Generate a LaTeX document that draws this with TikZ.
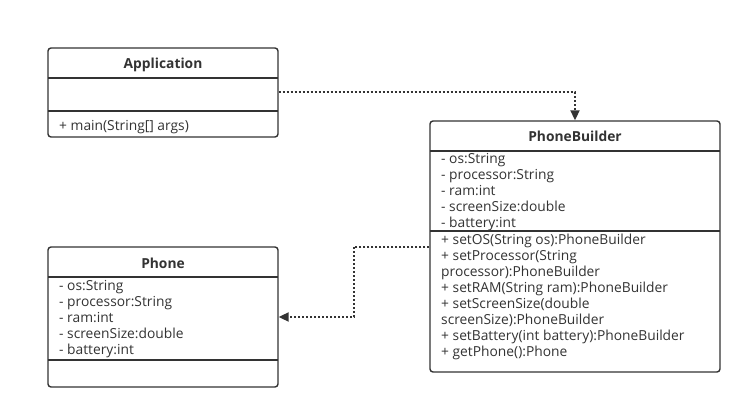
\documentclass[tikz,border=0pt]{standalone}
\usepackage{fontspec}
\setmainfont{Open Sans}
\usetikzlibrary{arrows.meta,calc}
\definecolor{ink}{HTML}{333333}
\begin{document}
\begin{tikzpicture}[x=1pt,y=-1pt,
  classbox/.style={draw=ink,line width=1.4pt,rounded corners=3pt,inner sep=0pt,fill=white},
  divider/.style={draw=ink,line width=1.4pt},
  title/.style={font=\fontsize{13.8}{15}\selectfont\bfseries,text=ink,inner sep=0pt,text height=10pt,text depth=3pt},
  member/.style={font=\fontsize{13.8}{15}\selectfont,text=ink,anchor=west,inner sep=0pt,text height=10pt,text depth=3.5pt},
  dep/.style={draw=ink,line width=2pt,dash pattern=on 2pt off 2pt,-{Triangle[length=10pt,width=9pt]}}]
\useasboundingbox (0,0) rectangle (753,420);
\fill[white] (0,0) rectangle (753,420);
% Application
\node[classbox,minimum width=230pt,minimum height=89pt] (app) at (163,92.5) {};
\draw[divider] (48,78) -- (278,78);
\draw[divider] (48,111) -- (278,111);
\node[title] (appt) at (163,65) {Application};
\node[member] (appm) at (59,127.5) {+ main(String[] args)};
% PhoneBuilder
\node[classbox,minimum width=290pt,minimum height=251pt] (pb) at (575,246.5) {};
\draw[divider] (430,151) -- (720,151);
\draw[divider] (430,231) -- (720,231);
\node[title] (pbt) at (575,138) {PhoneBuilder};
\foreach \t [count=\i from 0] in {- os:String,- processor:String,- ram:int,- screenSize:double,- battery:int}
  \node[member] (pba\i) at (441,160.5+16*\i) {\t};
\foreach \t [count=\i from 0] in {+ setOS(String os):PhoneBuilder,+ setProcessor(String,processor):PhoneBuilder,+ setRAM(String ram):PhoneBuilder,+ setScreenSize(double,screenSize):PhoneBuilder,+ setBattery(int battery):PhoneBuilder,+ getPhone():Phone}
  \node[member] (pbm\i) at (441,241.5+16*\i) {\t};
% Phone
\node[classbox,minimum width=230pt,minimum height=140pt] (phone) at (163,317) {};
\draw[divider] (48,277) -- (278,277);
\draw[divider] (48,360) -- (278,360);
\node[title] (pht) at (163,265) {Phone};
\foreach \t [count=\i from 0] in {- os:String,- processor:String,- ram:int,- screenSize:double,- battery:int}
  \node[member] (pha\i) at (59,287.5+16*\i) {\t};
% connectors
\draw[dep] (app.east) -| (pb.north);
\draw[dep] (pb.west) -| ($(pb.west)!0.5!(phone.east)$) |- (phone.east);
\end{tikzpicture}
\end{document}
